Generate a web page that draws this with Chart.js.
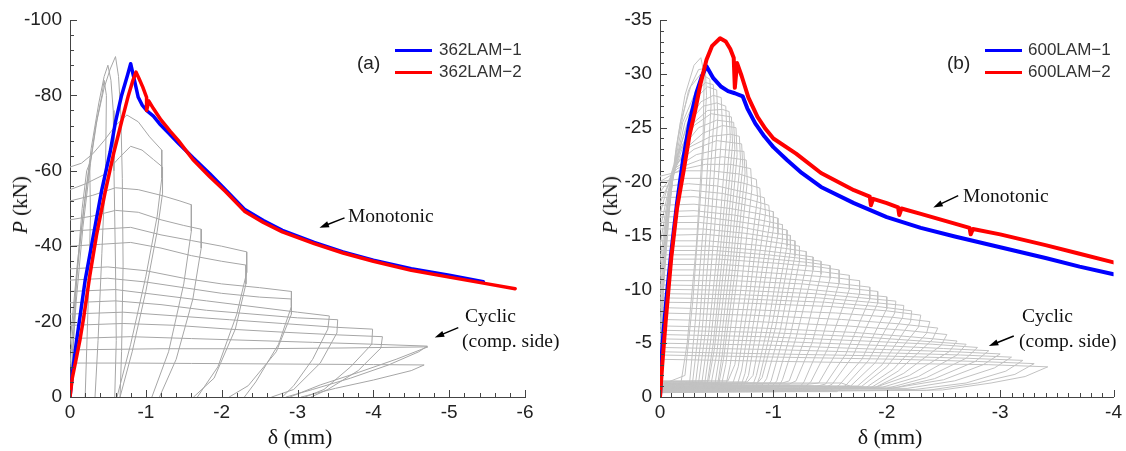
<!DOCTYPE html>
<html>
<head>
<meta charset="utf-8">
<script src="https://cdn.jsdelivr.net/npm/chart.js@4.4.1/dist/chart.umd.min.js"></script>
<style>
  body { margin:0; background:#fff; width:1126px; height:451px; overflow:hidden; position:relative;
         font-family:"Liberation Sans", Arial, sans-serif; }
  .panel { position:absolute; top:0; width:563px; height:451px; }
  .panel canvas { position:absolute; left:0; top:0; }
  .txt { position:absolute; white-space:nowrap; line-height:20px; }
  .leg { font-size:17px; color:#333; }
  .tag { font-size:19px; color:#222; }
  .serif { font-family:"Liberation Serif","Times New Roman",serif; color:#111; font-size:19.5px; }
  .sw { position:absolute; width:37px; height:3px; }
  .ytitle { font-family:"Liberation Serif",serif; font-size:21px; color:#111; transform:translate(-50%,-50%) rotate(-90deg); }
  .xtitle { font-family:"Liberation Serif",serif; font-size:22px; color:#111; transform:translate(-50%,-50%); }
</style>
</head>
<body>
<div class="panel" style="left:0"><canvas id="chartA" width="563" height="451"></canvas></div>
<div class="panel" style="left:563px"><canvas id="chartB" width="563" height="451"></canvas></div>

<!-- panel (a) texts -->
<div class="txt tag" style="left:357px; top:53px">(a)</div>
<div class="sw" style="left:395px; top:49px; background:#0000ff"></div>
<div class="txt leg" style="left:439px; top:40px">362LAM−1</div>
<div class="sw" style="left:395px; top:71px; background:#ff0000"></div>
<div class="txt leg" style="left:439px; top:62px">362LAM−2</div>
<div class="txt serif" style="left:348px; top:206px">Monotonic</div>
<div class="txt serif" style="left:465px; top:306px">Cyclic</div>
<div class="txt serif" style="left:462px; top:331px">(comp. side)</div>
<div class="txt ytitle" style="left:20px; top:205px"><i>P</i> (kN)</div>
<div class="txt xtitle" style="left:300px; top:437px">δ (mm)</div>

<!-- panel (b) texts -->
<div class="txt tag" style="left:947px; top:53px">(b)</div>
<div class="sw" style="left:985px; top:49px; background:#0000ff"></div>
<div class="txt leg" style="left:1028px; top:40px">600LAM−1</div>
<div class="sw" style="left:985px; top:71px; background:#ff0000"></div>
<div class="txt leg" style="left:1028px; top:62px">600LAM−2</div>
<div class="txt serif" style="left:963px; top:186px">Monotonic</div>
<div class="txt serif" style="left:1022px; top:306px">Cyclic</div>
<div class="txt serif" style="left:1019px; top:331px">(comp. side)</div>
<div class="txt ytitle" style="left:610px; top:205px"><i>P</i> (kN)</div>
<div class="txt xtitle" style="left:890px; top:437px">δ (mm)</div>

<script>
'use strict';

// ─── data: panel (a) 362LAM, points are [δ (mm), P (kN)] ─────────
const xTicksA = [0, -1, -2, -3, -4, -5, -6];
const yTicksA = [0, -20, -40, -60, -80, -100];

const mono362_1 = [[0,0],[-0.03,-6],[-0.08,-14],[-0.13,-21],[-0.2,-31],[-0.31,-43],[-0.42,-55],[-0.53,-65],
  [-0.6,-73],[-0.68,-80],[-0.76,-85.5],[-0.8,-88.4],[-0.85,-84],[-0.9,-79.5],[-0.95,-77.5],[-1.01,-76],
  [-1.1,-74.5],[-1.18,-72.5],[-1.3,-70],[-1.42,-67.5],[-1.62,-63.5],[-1.84,-59.3],[-2.05,-55],[-2.3,-49.8],
  [-2.55,-46.8],[-2.8,-44.2],[-3.22,-41],[-3.6,-38.5],[-4.0,-36.3],[-4.5,-34],[-5.0,-32.3],[-5.45,-30.6]];

const mono362_2 = [[0,0],[-0.03,-5],[-0.08,-10],[-0.13,-15],[-0.18,-21],[-0.26,-32],[-0.35,-43],[-0.46,-54],
  [-0.58,-65],[-0.68,-73],[-0.77,-80],[-0.83,-84],[-0.87,-86.2],[-0.91,-84.5],[-0.96,-82.2],[-1.01,-79.5],
  [-1.01,-76],[-1.04,-78.5],[-1.1,-76.5],[-1.2,-73.5],[-1.32,-70.5],[-1.43,-68],[-1.62,-63],[-1.84,-58.5],
  [-2.05,-54.5],[-2.3,-49.3],[-2.55,-46.3],[-2.8,-43.8],[-3.22,-40.7],[-3.6,-38.2],[-4.0,-36],[-4.5,-33.6],
  [-5.0,-31.8],[-5.45,-30.2],[-5.87,-28.7]];

const cyc362 = [
  [[0,0],[-0.05,-18],[-0.1,-35],[-0.16,-50],[-0.22,-60],[-0.26,-62],[-0.27,-48],[-0.24,-25],[-0.2,0]],
  [[0,0],[-0.08,-25],[-0.17,-45],[-0.27,-62],[-0.36,-74],[-0.42,-80],[-0.45,-84],[-0.48,-80],[-0.47,-62],[-0.42,-38],[-0.37,-15],[-0.33,0]],
  [[0,-8],[-0.08,-30],[-0.18,-50],[-0.28,-66],[-0.38,-78],[-0.45,-85],[-0.5,-88],[-0.54,-84],[-0.57,-76],[-0.58,-60],[-0.6,-35],[-0.61,-15],[-0.59,0]],
  [[0,-14],[-0.1,-36],[-0.22,-56],[-0.34,-72],[-0.45,-82],[-0.53,-87],[-0.6,-90.3],[-0.64,-85],[-0.67,-75],[-0.69,-58],[-0.7,-35],[-0.68,-12],[-0.66,0]],
  [[0,-61],[-0.15,-62],[-0.3,-64.5],[-0.45,-68],[-0.6,-72],[-0.75,-74.8],[-0.9,-73],[-1.05,-69],[-1.21,-65.5],[-1.21,-58],[-1.15,-48],[-1.0,-32],[-0.8,-14],[-0.62,0]],
  [[0,-55],[-0.2,-56.5],[-0.45,-59],[-0.65,-63.5],[-0.8,-66.5],[-0.95,-65.5],[-1.1,-63],[-1.22,-61],[-1.22,-54],[-1.15,-44],[-1.0,-28],[-0.82,-12],[-0.66,0]],
  [[0,-52],[-0.3,-53.5],[-0.6,-55.5],[-0.9,-55],[-1.2,-53.5],[-1.45,-52],[-1.6,-51],[-1.6,-44],[-1.5,-30],[-1.3,-12],[-1.08,0]],
  [[0,-47],[-0.3,-48],[-0.6,-49.5],[-0.9,-49],[-1.2,-47],[-1.5,-45.5],[-1.73,-44.5],[-1.73,-39.5],[-1.62,-26],[-1.4,-10],[-1.18,0]],
  [[0,-44],[-0.4,-44.5],[-0.8,-45],[-1.2,-43],[-1.6,-41.5],[-2.0,-40],[-2.33,-38.5],[-2.33,-33],[-2.2,-22],[-1.95,-8],[-1.68,0]],
  [[0,-40],[-0.4,-40.5],[-0.8,-41],[-1.2,-39.5],[-1.6,-37.5],[-2.0,-36],[-2.32,-35],[-2.32,-30],[-2.18,-18],[-1.9,-5],[-1.63,0]],
  [[0,-34],[-0.5,-34.5],[-1.0,-33.5],[-1.5,-31.5],[-2.0,-30],[-2.5,-29],[-2.92,-28],[-2.92,-24],[-2.75,-14],[-2.45,-4],[-2.3,0]],
  [[0,-31],[-0.5,-31.5],[-1.0,-30.5],[-1.5,-29],[-2.0,-27.5],[-2.5,-26.5],[-2.92,-26],[-2.92,-22],[-2.72,-12],[-2.35,-3],[-2.1,0]],
  [[0,-28],[-0.6,-28.5],[-1.2,-27],[-1.8,-25.5],[-2.4,-24],[-3.0,-22.5],[-3.42,-21.5],[-3.4,-18],[-3.2,-10],[-2.95,-3],[-2.8,0]],
  [[0,-25],[-0.6,-25.5],[-1.2,-24.5],[-1.8,-23],[-2.4,-22],[-3.0,-21],[-3.53,-20.5],[-3.52,-17],[-3.3,-9],[-2.95,-2],[-2.66,0]],
  [[0,-22],[-0.7,-22.5],[-1.4,-21.5],[-2.1,-20.5],[-2.8,-19.5],[-3.5,-18.5],[-3.99,-18],[-3.98,-14],[-3.7,-8],[-3.35,-2],[-3.1,0]],
  [[0,-19],[-0.7,-19.5],[-1.4,-19],[-2.1,-18],[-2.8,-17.2],[-3.5,-16.5],[-4.12,-16],[-4.1,-13],[-3.8,-7],[-3.4,-2],[-3.18,0]],
  [[0,-15.5],[-0.8,-16],[-1.6,-15.5],[-2.4,-15],[-3.2,-14.5],[-4.0,-14],[-4.71,-13.5],[-4.6,-12],[-4.2,-8.5],[-3.7,-5],[-3.2,-2],[-2.85,0]],
  [[0,-12.5],[-1.2,-12.8],[-2.4,-12.8],[-3.6,-13],[-4.72,-13.3],[-4.3,-10],[-3.8,-6.5],[-3.3,-3.2],[-2.9,0]],
  [[0,-9],[-0.8,-9],[-1.6,-8.9],[-2.4,-8.8],[-3.2,-8.7],[-4.0,-8.6],[-4.67,-8.5],[-4.5,-7],[-4.0,-4.5],[-3.5,-2.3],[-3.05,0]]
];

// ─── data: panel (b) 600LAM ──────────────────────────────────────
const xTicksB = [0, -1, -2, -3, -4];
const yTicksB = [0, -5, -10, -15, -20, -25, -30, -35];

const mono600_1 = [[0,0],[-0.01,-3],[-0.03,-6],[-0.06,-9.5],[-0.1,-13.5],[-0.15,-18],[-0.2,-21.8],[-0.26,-25.5],
  [-0.32,-28.2],[-0.37,-29.8],[-0.41,-30.7],[-0.47,-29.6],[-0.54,-28.8],[-0.6,-28.4],[-0.66,-28.2],[-0.73,-27.9],
  [-0.77,-26.8],[-0.84,-25.4],[-0.92,-24.2],[-1.0,-23.2],[-1.12,-22],[-1.25,-20.8],[-1.42,-19.5],[-1.71,-18],
  [-2.0,-16.7],[-2.3,-15.7],[-2.6,-14.9],[-3.0,-13.9],[-3.4,-12.9],[-3.7,-12.1],[-4.0,-11.4]];

const mono600_2 = [[0,0],[-0.02,-3],[-0.05,-7],[-0.1,-13],[-0.15,-17.5],[-0.21,-21.1],[-0.26,-24.3],[-0.31,-26.6],
  [-0.36,-29.2],[-0.41,-31.3],[-0.46,-32.6],[-0.53,-33.3],[-0.58,-33],[-0.62,-32.3],[-0.65,-31.5],[-0.66,-28.7],
  [-0.68,-31],[-0.72,-29.8],[-0.78,-27.8],[-0.86,-26],[-0.93,-24.9],[-1.0,-24.0],[-1.2,-22.6],[-1.42,-20.8],
  [-1.71,-19.2],[-1.85,-18.6],[-1.86,-17.8],[-1.88,-18.4],[-2.0,-18.0],[-2.1,-17.6],[-2.11,-16.9],[-2.13,-17.5],
  [-2.3,-17.0],[-2.6,-16.1],[-2.73,-15.7],[-2.74,-15.1],[-2.76,-15.6],[-3.0,-15.1],[-3.4,-14.1],[-3.7,-13.3],[-4.0,-12.5]];

const cyc600 = [
  [[0,-1.5],[-0.03,-10],[-0.08,-17],[-0.14,-23],[-0.22,-28],[-0.3,-30.8],[-0.36,-31.5],[-0.39,-30],[-0.38,-24],[-0.32,-14],[-0.24,-5],[-0.18,-1],[0,-0.6]],
  [[0,-2],[-0.04,-12],[-0.09,-18.5],[-0.16,-24],[-0.25,-28.4],[-0.34,-30.4],[-0.4,-30.5],[-0.41,-28],[-0.36,-19],[-0.29,-9],[-0.22,-2],[0,-1.1]],
  [[0,-3],[-0.04,-13],[-0.1,-20],[-0.18,-25.5],[-0.27,-28.8],[-0.36,-30],[-0.44,-29.5],[-0.45,-27],[-0.4,-18],[-0.32,-8],[-0.26,-1.2],[0,-0.8]],
  [[0,-4],[-0.05,-14],[-0.11,-20.5],[-0.2,-25.5],[-0.3,-28],[-0.4,-29.2],[-0.47,-29],[-0.48,-26.5],[-0.42,-17],[-0.35,-7],[-0.28,-0.7],[0,-0.7]],
  [[0,-5],[-0.05,-15],[-0.12,-21],[-0.22,-25.5],[-0.32,-27.8],[-0.42,-28.8],[-0.5,-28.5],[-0.51,-26],[-0.45,-16],[-0.37,-6],[-0.31,-1],[0,-0.5]],
  [[0,-6.5],[-0.06,-16],[-0.13,-21.5],[-0.24,-25.4],[-0.36,-27.4],[-0.47,-28],[-0.54,-27.8],[-0.55,-25.2],[-0.48,-15.5],[-0.4,-6],[-0.34,-1.3],[0,-1.2]],
  [[0,-8],[-0.06,-17],[-0.14,-22],[-0.25,-25.5],[-0.38,-27],[-0.5,-27.3],[-0.58,-27],[-0.59,-24.5],[-0.52,-15],[-0.43,-6],[-0.37,-1.4],[0,-1]],
  [[0,-9.5],[-0.07,-18],[-0.16,-22.5],[-0.28,-25.3],[-0.42,-26.6],[-0.55,-26.7],[-0.61,-26.5],[-0.62,-24],[-0.54,-14.5],[-0.45,-5.5],[-0.39,-0.9],[0,-0.6]],
  [[0,-11],[-0.08,-19],[-0.18,-23],[-0.3,-25.2],[-0.45,-26.3],[-0.63,-26],[-0.64,-23.5],[-0.56,-14],[-0.47,-5],[-0.41,-0.8],[0,-0.7]],
  [[0,-12.5],[-0.09,-19.8],[-0.2,-23.2],[-0.34,-25],[-0.5,-25.7],[-0.65,-25.5],[-0.66,-23],[-0.58,-13.5],[-0.48,-4.5],[-0.43,-1.5],[0,-1.4]],
  [[0,-14],[-0.1,-20.5],[-0.22,-23],[-0.38,-24.5],[-0.55,-25.2],[-0.67,-25],[-0.68,-22.5],[-0.6,-13],[-0.5,-4],[-0.45,-1.2],[0,-1.3]],
  [[0,-15.5],[-0.11,-21],[-0.26,-23.2],[-0.45,-24.2],[-0.62,-24.4],[-0.7,-24.2],[-0.71,-22],[-0.62,-12.5],[-0.52,-3.5],[-0.48,-0.9],[0,-1]],
  [[0,-17],[-0.12,-21.5],[-0.3,-23],[-0.5,-23.8],[-0.72,-23.5],[-0.73,-21.5],[-0.64,-12],[-0.55,-4],[-0.5,-0.6],[0,-0.4]],
  [[0,-18],[-0.14,-21.3],[-0.32,-22.5],[-0.52,-23],[-0.74,-22.8],[-0.75,-20.8],[-0.66,-11.5],[-0.56,-3.5],[-0.52,-1.3],[0,-1.2]],
  [[0,-19],[-0.15,-21.2],[-0.35,-22],[-0.55,-22.3],[-0.76,-22],[-0.77,-20],[-0.68,-11],[-0.58,-3],[-0.54,-1],[0,-0.9]],
  [[0,-20],[-0.18,-21.1],[-0.4,-21.6],[-0.62,-21.6],[-0.8,-21.2],[-0.81,-19.3],[-0.72,-10.5],[-0.62,-3],[-0.57,-0.5],[0,-0.5]],
  [[0,-20.5],[-0.2,-21],[-0.45,-21],[-0.7,-20.7],[-0.85,-20.2],[-0.86,-18.5],[-0.76,-10],[-0.66,-3],[-0.6,-1.5],[0,-1.5]],
  [[0,-20],[-0.22,-20.3],[-0.48,-20.3],[-0.72,-19.9],[-0.88,-19.4],[-0.89,-17.8],[-0.79,-9.5],[-0.69,-2.8],[-0.64,-1.2],[0,-1.1]],
  [[0,-19.5],[-0.25,-19.8],[-0.5,-19.6],[-0.75,-19],[-0.92,-18.5],[-0.93,-17],[-0.82,-9],[-0.72,-2.5],[-0.67,-0.7],[0,-0.5]],
  [[0,-19],[-0.27,-19.2],[-0.55,-18.9],[-0.8,-18.3],[-0.96,-17.8],[-0.97,-16.3],[-0.85,-8.5],[-0.75,-2.2],[-0.71,-0.9],[0,-0.9]],
  [[0,-18.5],[-0.3,-18.6],[-0.6,-18.2],[-0.85,-17.6],[-1.0,-17.2],[-1.0,-15.6],[-0.88,-8],[-0.78,-2],[-0.74,-1.1],[0,-1.1]],
  [[0,-17.8],[-0.3,-17.9],[-0.62,-17.5],[-0.88,-17],[-1.04,-16.6],[-1.04,-15.1],[-0.92,-7.5],[-0.82,-2],[-0.77,-1.4],[0,-1.4]],
  [[0,-17.2],[-0.3,-17.3],[-0.65,-16.9],[-0.9,-16.4],[-1.08,-16],[-1.08,-14.6],[-0.96,-7],[-0.85,-2],[-0.8,-0.6],[0,-0.7]],
  [[0,-16.7],[-0.33,-16.8],[-0.68,-16.3],[-0.92,-15.9],[-1.12,-15.5],[-1.12,-14],[-0.99,-6.8],[-0.88,-1.9],[-0.83,-0.5],[0,-0.6]],
  [[0,-16.2],[-0.35,-16.2],[-0.7,-15.8],[-0.95,-15.3],[-1.15,-15],[-1.15,-13.5],[-1.02,-6.5],[-0.9,-1.8],[-0.86,-1.3],[0,-1.2]],
  [[0,-15.6],[-0.38,-15.6],[-0.75,-15.2],[-1.0,-14.8],[-1.19,-14.5],[-1.19,-13.1],[-1.06,-6.2],[-0.94,-1.7],[-0.9,-1.1],[0,-1]],
  [[0,-15],[-0.4,-15.1],[-0.8,-14.7],[-1.05,-14.3],[-1.23,-14],[-1.23,-12.6],[-1.1,-6],[-0.98,-1.5],[-0.93,-0.8],[0,-0.9]],
  [[0,-14.5],[-0.42,-14.5],[-0.85,-14.1],[-1.1,-13.8],[-1.29,-13.5],[-1.29,-12.2],[-1.15,-5.8],[-1.03,-1.5],[-0.98,-0.9],[0,-0.8]],
  [[0,-14],[-0.45,-14],[-0.9,-13.6],[-1.15,-13.3],[-1.35,-13],[-1.35,-11.8],[-1.2,-5.5],[-1.08,-1.6],[-1.02,-0.5],[0,-0.5]],
  [[0,-13.6],[-0.48,-13.6],[-0.95,-13.2],[-1.22,-12.9],[-1.42,-12.6],[-1.42,-11.4],[-1.27,-5.2],[-1.14,-1.5],[-1.08,-1.3],[0,-1.3]],
  [[0,-13.2],[-0.5,-13.2],[-1.0,-12.8],[-1.3,-12.5],[-1.5,-12.2],[-1.5,-11],[-1.34,-5],[-1.2,-1.5],[-1.14,-1.2],[0,-1.4]],
  [[0,-12.8],[-0.52,-12.8],[-1.05,-12.4],[-1.38,-12.1],[-1.58,-11.8],[-1.58,-10.6],[-1.41,-4.8],[-1.27,-1.4],[-1.2,-0.5],[0,-0.5]],
  [[0,-12.3],[-0.55,-12.3],[-1.1,-11.9],[-1.45,-11.6],[-1.67,-11.3],[-1.67,-10],[-1.48,-4.5],[-1.33,-1.4],[-1.25,-0.7],[0,-0.8]],
  [[0,-11.8],[-0.58,-11.8],[-1.15,-11.4],[-1.52,-11.1],[-1.76,-10.8],[-1.76,-9.6],[-1.56,-4.2],[-1.4,-1.3],[-1.32,-1.2],[0,-1.2]],
  [[0,-11.3],[-0.6,-11.3],[-1.2,-10.9],[-1.6,-10.5],[-1.85,-10.2],[-1.85,-9.1],[-1.64,-4],[-1.46,-1.2],[-1.38,-1],[0,-1]],
  [[0,-10.8],[-0.65,-10.8],[-1.25,-10.5],[-1.65,-10.1],[-1.92,-9.8],[-1.92,-8.7],[-1.7,-3.8],[-1.52,-1.2],[-1.44,-0.8],[0,-0.8]],
  [[0,-10.4],[-0.7,-10.3],[-1.3,-10],[-1.7,-9.6],[-2.0,-9.3],[-2.0,-8.2],[-1.78,-3.5],[-1.58,-1.1],[-1.5,-0.6],[0,-0.6]],
  [[0,-10],[-0.7,-9.9],[-1.35,-9.6],[-1.78,-9.2],[-2.08,-8.9],[-2.07,-7.8],[-1.84,-3.4],[-1.64,-1.1],[-1.56,-0.5],[0,-0.5]],
  [[0,-9.6],[-0.7,-9.5],[-1.4,-9.2],[-1.85,-8.8],[-2.15,-8.5],[-2.14,-7.4],[-1.9,-3.2],[-1.68,-1],[-1.6,-1.3],[0,-1.3]],
  [[0,-9.2],[-0.75,-9.1],[-1.45,-8.8],[-1.92,-8.4],[-2.22,-8.0],[-2.21,-7],[-1.96,-3],[-1.74,-1],[0,-1.2]],
  [[0,-8.8],[-0.8,-8.7],[-1.5,-8.4],[-2.0,-8.0],[-2.3,-7.6],[-2.28,-6.5],[-2.0,-2.8],[-1.78,-1],[0,-0.9]],
  [[0,-8.3],[-0.8,-8.1],[-1.55,-7.8],[-2.05,-7.4],[-2.38,-7.0],[-2.35,-5.9],[-2.06,-2.6],[-1.82,-0.9],[0,-0.9]],
  [[0,-7.8],[-0.8,-7.6],[-1.6,-7.2],[-2.1,-6.8],[-2.45,-6.4],[-2.4,-5.3],[-2.1,-2.4],[-1.85,-0.8],[0,-0.7]],
  [[0,-7.2],[-0.85,-7],[-1.65,-6.6],[-2.15,-6.2],[-2.53,-5.8],[-2.48,-4.8],[-2.15,-2.2],[-1.88,-0.8],[0,-0.6]],
  [[0,-6.6],[-0.9,-6.4],[-1.7,-6],[-2.2,-5.6],[-2.62,-5.2],[-2.55,-4.2],[-2.2,-2],[-1.9,-0.9],[0,-1.1]],
  [[0,-6.2],[-0.9,-6],[-1.75,-5.6],[-2.3,-5.2],[-2.7,-4.9],[-2.62,-3.9],[-2.28,-1.9],[-1.96,-0.9],[0,-1]],
  [[0,-5.8],[-0.9,-5.6],[-1.8,-5.2],[-2.4,-4.9],[-2.8,-4.6],[-2.7,-3.6],[-2.35,-1.8],[-2.0,-0.8],[0,-0.5]],
  [[0,-5.4],[-0.95,-5.2],[-1.9,-4.8],[-2.5,-4.5],[-2.9,-4.3],[-2.78,-3.3],[-2.42,-1.7],[-2.05,-0.8],[0,-0.7]],
  [[0,-5],[-1.0,-4.8],[-2.0,-4.4],[-2.6,-4.2],[-3.0,-4.0],[-2.85,-3.0],[-2.5,-1.6],[-2.1,-0.9],[0,-1.2]],
  [[0,-4.6],[-1.0,-4.4],[-2.0,-4.1],[-2.65,-3.9],[-3.1,-3.7],[-2.95,-2.7],[-2.6,-1.5],[-2.18,-0.8],[0,-0.9]],
  [[0,-4.2],[-1.0,-4],[-2.0,-3.8],[-2.7,-3.6],[-3.2,-3.4],[-3.05,-2.4],[-2.7,-1.3],[-2.25,-0.7],[0,-0.8]],
  [[0,-3.9],[-1.05,-3.7],[-2.1,-3.5],[-2.8,-3.3],[-3.3,-3.1],[-3.13,-2.1],[-2.8,-1.3],[-2.35,-0.6],[0,-0.6]],
  [[0,-3.5],[-1.1,-3.3],[-2.2,-3.1],[-2.9,-3],[-3.42,-2.8],[-3.22,-1.9],[-2.92,-1.3],[-2.49,-0.65],[0,-0.4]]
];

// annotation arrows, [tail, head] in data units
const arrowsA = [[[-3.62,-47.5],[-3.29,-44.9]], [[-5.12,-18.4],[-4.81,-15.8]]];
const arrowsB = [[[-2.63,-18.7],[-2.41,-17.6]], [[-3.12,-5.66],[-2.90,-4.74]]];

// ─── helpers ─────────────────────────────────────────────────────
const toXY = (pts) => pts.map(([x, y]) => ({ x, y }));

// inward major/minor tick marks on the left and bottom axes
const innerTicks = {
  id: 'innerTicks',
  afterDraw(chart, args, o) {
    const { ctx, chartArea: a, scales: { x, y } } = chart;
    const vals = (lo, hi, st) => {
      const out = [];
      for (let k = Math.ceil(lo / st - 1e-6); k <= Math.floor(hi / st + 1e-6); k++) out.push(k * st);
      return out;
    };
    const isMajor = (v, st) => Math.abs(v / st - Math.round(v / st)) < 1e-6;
    ctx.save();
    ctx.strokeStyle = '#444';
    ctx.lineWidth = 1;
    ctx.beginPath();
    vals(x.min, x.max, o.xMinor).forEach(v => {
      const px = Math.round(x.getPixelForValue(v)) + 0.5;
      ctx.moveTo(px, a.bottom);
      ctx.lineTo(px, a.bottom - (isMajor(v, o.xMajor) ? 7 : 4));
    });
    vals(y.min, y.max, o.yMinor).forEach(v => {
      const py = Math.round(y.getPixelForValue(v)) + 0.5;
      ctx.moveTo(a.left, py);
      ctx.lineTo(a.left + (isMajor(v, o.yMajor) ? 7 : 4), py);
    });
    ctx.stroke();
    ctx.restore();
  }
};

// small black arrows pointing at the curves
const noteArrows = {
  id: 'noteArrows',
  afterDraw(chart, args, o) {
    const { ctx, scales: { x, y } } = chart;
    ctx.save();
    ctx.strokeStyle = '#000';
    ctx.fillStyle = '#000';
    ctx.lineWidth = 1.5;
    (o.list || []).forEach(([t, h]) => {
      const x0 = x.getPixelForValue(t[0]), y0 = y.getPixelForValue(t[1]);
      const x1 = x.getPixelForValue(h[0]), y1 = y.getPixelForValue(h[1]);
      const ang = Math.atan2(y1 - y0, x1 - x0);
      ctx.beginPath();
      ctx.moveTo(x0, y0);
      ctx.lineTo(x1 - 6 * Math.cos(ang), y1 - 6 * Math.sin(ang));
      ctx.stroke();
      ctx.beginPath();
      ctx.moveTo(x1, y1);
      ctx.lineTo(x1 - 10 * Math.cos(ang - 0.32), y1 - 10 * Math.sin(ang - 0.32));
      ctx.lineTo(x1 - 10 * Math.cos(ang + 0.32), y1 - 10 * Math.sin(ang + 0.32));
      ctx.closePath();
      ctx.fill();
    });
    ctx.restore();
  }
};

function makePanel(id, p) {
  const datasets = [
    { data: toXY(p.red), borderColor: '#ff0000', borderWidth: p.monoWidth, order: 0 },
    { data: toXY(p.blue), borderColor: '#0000ff', borderWidth: p.monoWidth, order: 1 },
    ...p.cyc.map(c => ({ data: toXY(c), borderColor: p.gray, borderWidth: 1, order: 2 }))
  ].map(d => ({ ...d, showLine: true, pointRadius: 0, fill: false, tension: 0,
                borderJoinStyle: 'round', borderCapStyle: 'round' }));

  const tickFont = { family: '"Liberation Sans", Arial, sans-serif', size: 19 };

  return new Chart(document.getElementById(id), {
    type: 'scatter',
    data: { datasets },
    options: {
      responsive: false,
      animation: false,
      devicePixelRatio: 1,
      layout: { padding: { left: 0, right: p.padRight, top: 20, bottom: 0 } },
      plugins: {
        legend: { display: false },
        tooltip: { enabled: false },
        innerTicks: p.tickSteps,
        noteArrows: { list: p.arrows }
      },
      scales: {
        x: {
          type: 'linear', min: p.xTicks[p.xTicks.length - 1], max: 0, reverse: true,
          afterBuildTicks: s => { s.ticks = p.xTicks.map(v => ({ value: v })); },
          afterFit: s => { s.height = 54; },
          grid: { display: false, drawTicks: false },
          border: { display: true, color: '#444', width: 1 },
          ticks: { color: '#222', font: tickFont, padding: 4, maxRotation: 0, autoSkip: false }
        },
        y: {
          type: 'linear', min: p.yTicks[p.yTicks.length - 1], max: 0, reverse: true,
          afterBuildTicks: s => { s.ticks = p.yTicks.map(v => ({ value: v })); },
          afterFit: s => { s.width = p.yWidth; },
          grid: { display: false, drawTicks: false },
          border: { display: true, color: '#444', width: 1 },
          ticks: { color: '#222', font: tickFont, padding: 8, autoSkip: false }
        }
      }
    },
    plugins: [innerTicks, noteArrows]
  });
}

makePanel('chartA', {
  red: mono362_2, blue: mono362_1, cyc: cyc362, gray: '#a6a6a6', monoWidth: 3.5,
  xTicks: xTicksA, yTicks: yTicksA, yWidth: 70, padRight: 38,
  tickSteps: { xMajor: 1, xMinor: 0.2, yMajor: 20, yMinor: 4 },
  arrows: arrowsA
});

makePanel('chartB', {
  red: mono600_2, blue: mono600_1, cyc: cyc600, gray: '#c2c2c2', monoWidth: 4,
  xTicks: xTicksB, yTicks: yTicksB, yWidth: 97, padRight: 12,
  tickSteps: { xMajor: 1, xMinor: 0.1, yMajor: 5, yMinor: 1 },
  arrows: arrowsB
});
</script>
</body>
</html>
